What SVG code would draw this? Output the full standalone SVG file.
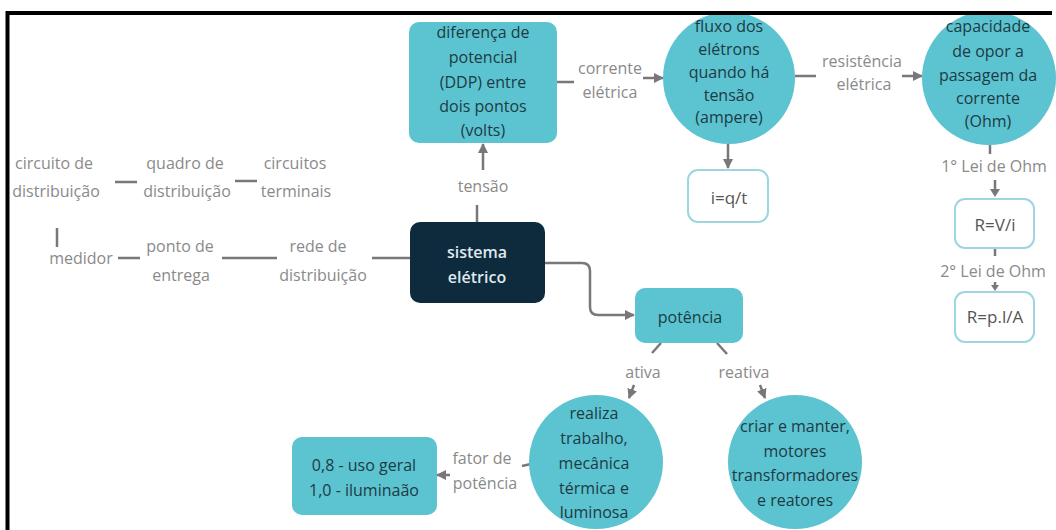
<svg xmlns="http://www.w3.org/2000/svg" width="1056" height="530" viewBox="0 0 1056 530">
<defs>
<marker id="ah" viewBox="0 0 10 10" refX="9" refY="5" markerWidth="10" markerHeight="10" markerUnits="userSpaceOnUse" orient="auto">
<path d="M0,0 L10,5 L0,10 z" fill="#7b767b"/>
</marker>
</defs>
<style>
.teal{fill:#5cc3d0;}
.white{fill:#ffffff;stroke:#9cd6de;stroke-width:2;}
.nt{font-family:"Open Sans","Liberation Sans",sans-serif;font-size:16px;fill:#1c3b45;text-anchor:middle;}
.wt{font-family:"Open Sans","Liberation Sans",sans-serif;font-size:16px;font-weight:600;fill:#dfe8ec;text-anchor:middle;}
.ft{font-family:"Open Sans","Liberation Sans",sans-serif;font-size:17px;fill:#555555;text-anchor:middle;}
.lb{font-family:"Open Sans","Liberation Sans",sans-serif;font-size:16px;fill:#8a8a8a;text-anchor:middle;}
.cn{fill:none;stroke:#7b767b;stroke-width:2.5;}
.ar{marker-end:url(#ah);}
.tri{fill:#7b767b;}
</style>
<rect x="0" y="0" width="1056" height="530" fill="#ffffff"/>

<g id="connectors">
<line class="cn ar" x1="483" y1="170" x2="483" y2="144"/>
<line class="cn" x1="477" y1="205" x2="477" y2="222"/>
<line class="cn" x1="557" y1="82" x2="574" y2="82"/>
<line class="cn ar" x1="643" y1="78" x2="663" y2="78"/>
<line class="cn" x1="795" y1="76" x2="816" y2="76"/>
<line class="cn ar" x1="902" y1="76" x2="922" y2="76"/>
<line class="cn ar" x1="728" y1="144" x2="728" y2="168"/>
<line class="cn" x1="990" y1="145" x2="990" y2="154"/>
<line class="cn" x1="995" y1="180" x2="995" y2="190"/>
<path class="tri" d="M990,189 L1000,189 L995,197 z"/>
<line class="cn" x1="995" y1="248" x2="995" y2="256"/>
<line class="cn" x1="995" y1="282" x2="995" y2="286"/>
<path class="tri" d="M991,285 L999,285 L995,291 z"/>
<path class="cn ar" d="M545,263 H582 Q590,263 590,271 V307 Q590,315 598,315 H634"/>
<line class="cn" x1="661" y1="343" x2="652" y2="353"/>
<line class="cn" x1="717" y1="343" x2="727" y2="354"/>
<line class="cn ar" x1="634" y1="385" x2="629" y2="398"/>
<line class="cn ar" x1="760" y1="385" x2="765" y2="398"/>
<line class="cn" x1="522" y1="466" x2="531" y2="464"/>
<line class="cn ar" x1="450" y1="475" x2="437" y2="475"/>
<line class="cn" x1="115" y1="182" x2="137" y2="182"/>
<line class="cn" x1="235" y1="181" x2="257" y2="181"/>
<line class="cn" x1="57" y1="228" x2="57" y2="247"/>
<line class="cn" x1="118" y1="258" x2="140" y2="258"/>
<line class="cn" x1="222" y1="258" x2="277" y2="258"/>
<line class="cn" x1="372" y1="258" x2="410" y2="258"/>
</g>

<g id="labels">
<text class="lb" x="483" y="192">tensão</text>
<text class="lb" x="610" y="74">corrente</text>
<text class="lb" x="610" y="98">elétrica</text>
<text class="lb" x="862" y="67">resistência</text>
<text class="lb" x="864" y="90" font-size="14">elétrica</text>
<text class="lb" x="994" y="172">1° Lei de Ohm</text>
<text class="lb" x="993" y="277">2° Lei de Ohm</text>
<text class="lb" x="643" y="378">ativa</text>
<text class="lb" x="744" y="378">reativa</text>
<text class="lb" x="482" y="464">fator de</text>
<text class="lb" x="485" y="489">potência</text>
<text class="lb" x="54" y="169">circuito de</text>
<text class="lb" x="56" y="197">distribuição</text>
<text class="lb" x="185" y="169">quadro de</text>
<text class="lb" x="187" y="197">distribuição</text>
<text class="lb" x="295" y="169">circuitos</text>
<text class="lb" x="296" y="197">terminais</text>
<text class="lb" x="81" y="264">medidor</text>
<text class="lb" x="180" y="252">ponto de</text>
<text class="lb" x="181" y="281">entrega</text>
<text class="lb" x="318" y="252">rede de</text>
<text class="lb" x="323" y="281">distribuição</text>
</g>

<g id="node-ddp">
<rect class="teal" x="409" y="22" width="148" height="121" rx="10"/>
<text class="nt" x="483" y="38">diferença de</text>
<text class="nt" x="483" y="63">potencial</text>
<text class="nt" x="483" y="88">(DDP) entre</text>
<text class="nt" x="483" y="112">dois pontos</text>
<text class="nt" x="483" y="136">(volts)</text>
</g>

<g id="node-fluxo">
<circle class="teal" cx="729" cy="78" r="66"/>
<text class="nt" x="729" y="32" font-size="15.5">fluxo dos</text>
<text class="nt" x="729" y="55" font-size="15.5">elétrons</text>
<text class="nt" x="729" y="78" font-size="15.5">quando há</text>
<text class="nt" x="729" y="101" font-size="15.5">tensão</text>
<text class="nt" x="729" y="123" font-size="15.5">(ampere)</text>
</g>

<g id="node-capacidade">
<circle class="teal" cx="989" cy="78" r="67"/>
<text class="nt" x="988" y="32" font-size="17.5">capacidade</text>
<text class="nt" x="988" y="57" font-size="17.5">de opor a</text>
<text class="nt" x="988" y="81" font-size="17.5">passagem da</text>
<text class="nt" x="988" y="104" font-size="17.5">corrente</text>
<text class="nt" x="988" y="127" font-size="17.5">(Ohm)</text>
</g>

<g id="node-iqt">
<rect class="white" x="688" y="170" width="80" height="52" rx="10"/>
<text class="ft" x="729" y="204">i=q/t</text>
</g>

<g id="node-rvi">
<rect class="white" x="955" y="199" width="79" height="49" rx="10"/>
<text class="ft" x="995" y="231">R=V/i</text>
</g>

<g id="node-rpla">
<rect class="white" x="955" y="292" width="79" height="50" rx="10"/>
<text class="ft" x="995" y="323">R=p.l/A</text>
</g>

<g id="node-sistema">
<rect x="410" y="222" width="135" height="81" rx="10" fill="#0e2a3d"/>
<text class="wt" x="477" y="258">sistema</text>
<text class="wt" x="477" y="283">elétrico</text>
</g>

<g id="node-potencia">
<rect class="teal" x="635" y="288" width="108" height="55" rx="10"/>
<text class="nt" x="690" y="323">potência</text>
</g>

<g id="node-realiza">
<circle class="teal" cx="596" cy="462" r="67"/>
<text class="nt" x="594" y="419" font-size="15">realiza</text>
<text class="nt" x="594" y="444" font-size="15">trabalho,</text>
<text class="nt" x="594" y="469" font-size="15">mecânica</text>
<text class="nt" x="594" y="494" font-size="15">térmica e</text>
<text class="nt" x="594" y="518" font-size="15">luminosa</text>
</g>

<g id="node-reativa">
<circle class="teal" cx="795" cy="462" r="67"/>
<text class="nt" x="795" y="432" font-size="17">criar e manter,</text>
<text class="nt" x="795" y="457" font-size="17">motores</text>
<text class="nt" x="795" y="481" font-size="17">transformadores</text>
<text class="nt" x="795" y="506" font-size="17">e reatores</text>
</g>

<g id="node-fator">
<rect class="teal" x="292" y="437" width="145" height="78" rx="10"/>
<text class="nt" x="364" y="471" font-size="18">0,8 - uso geral</text>
<text class="nt" x="364" y="496" font-size="18">1,0 - iluminaão</text>
</g>

<g id="frame">
<line x1="6" y1="13" x2="1052" y2="13" stroke="#000000" stroke-width="4"/>
<line x1="7.5" y1="11" x2="7.5" y2="530" stroke="#000000" stroke-width="4"/>
</g>
</svg>
